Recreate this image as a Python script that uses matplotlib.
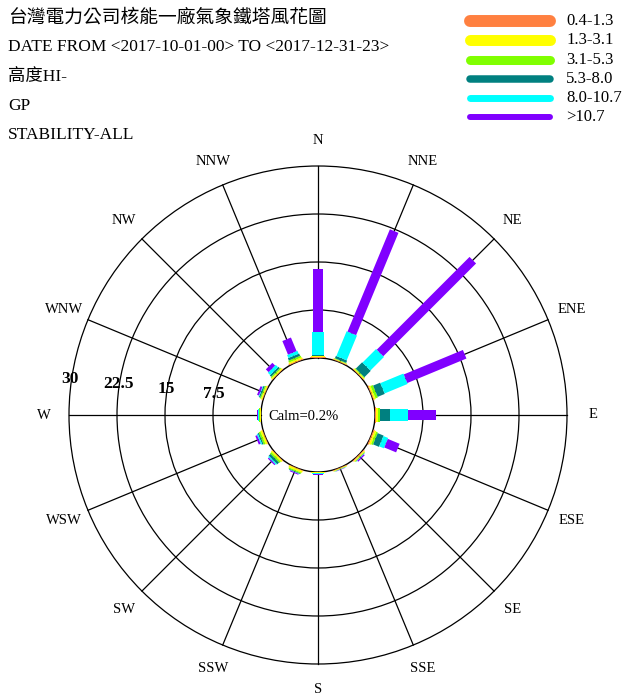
import numpy as np
import matplotlib
matplotlib.use("Agg")
import matplotlib.pyplot as plt
from matplotlib.patches import Polygon, Circle
from matplotlib.lines import Line2D

plt.rcParams['font.family'] = ['Liberation Serif', 'Noto Sans CJK TC', 'DejaVu Sans']

# ---- data (percent frequency per speed class, 16 directions from N clockwise)
directions = ["N", "NNE", "NE", "ENE", "E", "ESE", "SE", "SSE",
              "S", "SSW", "SW", "WSW", "W", "WNW", "NW", "NNW"]
speed_classes = ["0.4-1.3", "1.3-3.1", "3.1-5.3", "5.3-8.0", "8.0-10.7", ">10.7"]
colors = ["#FF8040", "#FFFF00", "#80FF00", "#008080", "#00FFFF", "#8000FF"]

freq_04_13 = [0.10, 0.10, 0.10, 0.15, 0.10, 0.20, 0.15, 0.10, 0.05, 0.10, 0.10, 0.10, 0.05, 0.10, 0.10, 0.15]
freq_13_31 = [0.15, 0.10, 0.15, 0.25, 0.40, 0.30, 0.15, 0.10, 0.10, 0.30, 0.25, 0.30, 0.10, 0.20, 0.20, 0.25]
freq_31_53 = [0.10, 0.10, 0.15, 0.40, 0.30, 0.30, 0.10, 0.05, 0.05, 0.20, 0.30, 0.30, 0.10, 0.20, 0.20, 0.30]
freq_53_80 = [0.15, 0.40, 1.40, 1.20, 1.50, 1.00, 0.05, 0.02, 0.02, 0.10, 0.40, 0.20, 0.05, 0.20, 0.30, 0.40]
freq_80_107 = [3.60, 4.20, 3.00, 3.90, 2.90, 0.80, 0.05, 0.03, 0.03, 0.05, 0.20, 0.20, 0.10, 0.10, 0.50, 0.50]
freq_gt107 = [9.80, 17.30, 20.50, 10.00, 4.30, 2.00, 0.20, 0.05, 0.15, 0.15, 0.20, 0.30, 0.20, 0.30, 0.60, 2.30]

ring_values = [7.5, 15, 22.5, 30]
calm_text = "Calm=0.2%"
header = ["台灣電力公司核能一廠氣象鐵塔風花圖",
          "DATE FROM <2017-10-01-00> TO <2017-12-31-23>",
          "高度HI-",
          "GP",
          "STABILITY-ALL"]

# ---- layout
W, H = 627, 697
cx, cy = 318, 415          # rose centre in pixels
S = 6.4                    # pixels per percent
calm_r = 57 / S            # radius of calm circle (data units)
bar_w = [2.5, 2.3, 2.1, 1.9, 1.75, 1.45]

fig = plt.figure(figsize=(W / 100, H / 100), dpi=100)
ax = fig.add_axes([0, 0, 1, 1])
ax.set_xlim(-cx / S, (W - cx) / S)
ax.set_ylim(-(H - cy) / S, cy / S)
ax.axis('off')

outer = calm_r + ring_values[-1]
angles = np.deg2rad(np.arange(16) * 22.5)

# grid
for a in angles:
    ax.plot([calm_r * np.sin(a), outer * np.sin(a)],
            [calm_r * np.cos(a), outer * np.cos(a)], color='black', lw=0.9, zorder=1)
for rv in ring_values:
    ax.add_patch(Circle((0, 0), calm_r + rv, fill=False, ec='black', lw=0.9, zorder=1))
ax.add_patch(Circle((0, 0), calm_r, fill=False, ec='black', lw=1.0, zorder=1))

# bars
series = [freq_04_13, freq_13_31, freq_31_53, freq_53_80, freq_80_107, freq_gt107]
cum = np.zeros(16)
for k, vals in enumerate(series):
    vals = np.array(vals)
    for i, a in enumerate(angles):
        r0, r1 = calm_r + cum[i], calm_r + cum[i] + vals[i]
        d = np.array([np.sin(a), np.cos(a)])
        p = np.array([np.cos(a), -np.sin(a)]) * bar_w[k] / 2
        pts = [r0 * d + p, r1 * d + p, r1 * d - p, r0 * d - p]
        ax.add_patch(Polygon(pts, closed=True, fc=colors[k], ec='none', zorder=3 + k))
    cum += vals

# direction labels
label_r = 42.9
for name, a in zip(directions, angles):
    ax.text(label_r * np.sin(a), label_r * np.cos(a), name, ha='center', va='center',
            fontsize=10.5)

# ring labels
for j, rv in enumerate(ring_values):
    ax.text(-(calm_r + rv) + 0.2, 3.3 + 0.75 * j, f"{rv:g}", ha='center', va='center',
            fontsize=12.5, fontweight='bold')

ax.text(-2.3, -0.2, calm_text, ha='center', va='center', fontsize=10.5)

# header
ys = [18, 47, 77, 106, 135]
for t, y in zip(header, ys):
    fig.text(8 / W, 1 - y / H, t, ha='left', va='center', fontsize=13.5 if y == 18 else 12.5)

# legend
leg_lw = [8.6, 7.9, 6.5, 5.4, 5.0, 4.3]
leg_y = [21, 40, 60, 79, 98, 117]
for k, (lab, y) in enumerate(zip(speed_classes, leg_y)):
    fig.add_artist(Line2D([470 / W, 550 / W], [1 - y / H, 1 - y / H], color=colors[k],
                          lw=leg_lw[k], solid_capstyle='round', transform=fig.transFigure))
    fig.text(566 / W, 1 - y / H, lab, ha='left', va='center', fontsize=12)

fig.savefig("out.png", dpi=100)
